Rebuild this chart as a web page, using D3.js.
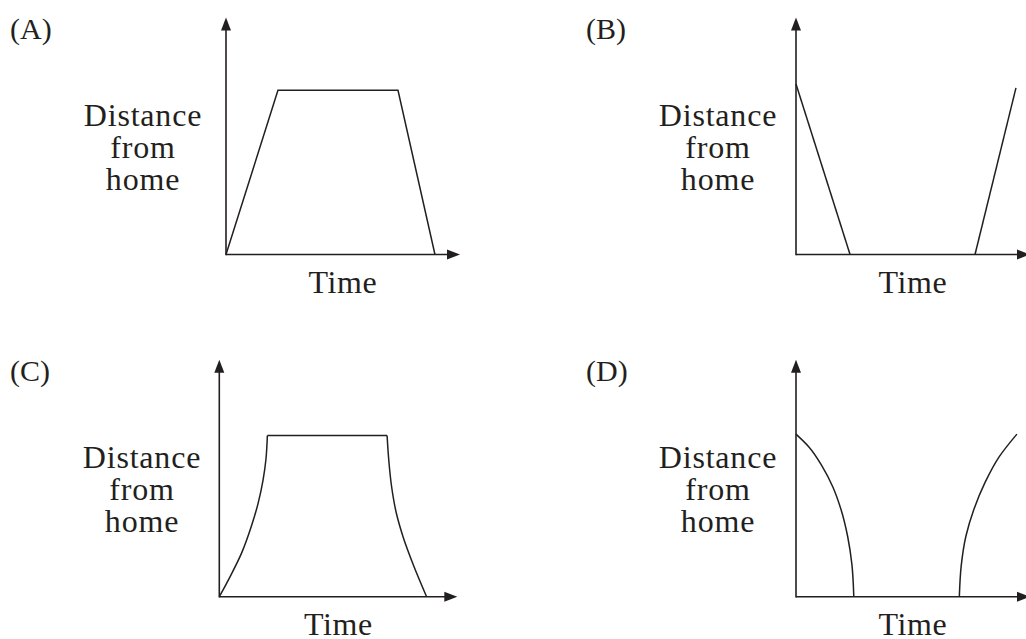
<!DOCTYPE html>
<html>
<head>
<meta charset="utf-8">
<script src="https://cdn.jsdelivr.net/npm/d3@7"></script>
<style>
  body { margin: 0; background: #fff; }
  text { font-family: "Liberation Serif", "Times New Roman", serif; fill: #231f20; }
</style>
</head>
<body>
<div id="chart"></div>
<script>
// panel captions and axis titles
var panelNames = ["(A)", "(B)", "(C)", "(D)"];
var yTitle = ["Distance", "from", "home"];
var xTitle = "Time";

// each graph: [time, distance] on a 0..10 scale (axis origin .. arrow tip)
var graphA = [[0, 0], [2.22, 6.93], [7.35, 6.93], [8.93, 0]];

var graphB1 = [[0, 7.19], [2.31, 0]];
var graphB2 = [[7.65, 0], [9.40, 7.03]];

var graphCUp = [[0, 0], [0.45, 0.84], [0.94, 1.85], [1.34, 2.95], [1.63, 3.94], [1.84, 4.93], [1.96, 5.8], [2.02, 6.8]];
var graphCTop = [[2.02, 6.8], [7.05, 6.8]];
var graphCDown = [[7.05, 6.8], [7.12, 5.77], [7.24, 4.64], [7.44, 3.52], [7.73, 2.5], [8.15, 1.35], [8.71, 0]];

var graphDDown = [[0, 6.86], [0.57, 6.3], [1.12, 5.5], [1.57, 4.64], [1.93, 3.66], [2.21, 2.53], [2.39, 1.35], [2.47, 0]];
var graphDUp = [[6.98, 0], [7.06, 1.3], [7.26, 2.55], [7.6, 3.68], [8.07, 4.8], [8.68, 5.9], [9.44, 6.86]];

var width = 1026, height = 639;
var ink = "#231f20";

// where each panel sits on the page
var panels = [
  {name: panelNames[0], ox: 226, oy: 254.5, w: 234, h: 237, labX: 143, capX: 10,
   series: [graphA], curves: [d3.curveLinear]},
  {name: panelNames[1], ox: 796, oy: 254.5, w: 234, h: 237, labX: 718, capX: 586,
   series: [graphB1, graphB2], curves: [d3.curveLinear, d3.curveLinear]},
  {name: panelNames[2], ox: 219.3, oy: 596.7, w: 238, h: 237, labX: 142, capX: 10,
   series: [graphCUp, graphCTop, graphCDown], curves: [d3.curveMonotoneY, d3.curveLinear, d3.curveMonotoneY]},
  {name: panelNames[3], ox: 796, oy: 596.7, w: 234, h: 237, labX: 718, capX: 586,
   series: [graphDDown, graphDUp], curves: [d3.curveMonotoneY, d3.curveMonotoneY]}
];

var svg = d3.select("#chart").append("svg")
  .attr("width", width)
  .attr("height", height)
  .style("background", "#fff");

panels.forEach(function(p) {
  var x = d3.scaleLinear().domain([0, 10]).range([p.ox, p.ox + p.w]);
  var y = d3.scaleLinear().domain([0, 10]).range([p.oy, p.oy - p.h]);

  var g = svg.append("g");

  // axes with arrow heads
  var tipX = x(10), tipY = y(10), aLen = 13, aHalf = 5;
  g.append("line")
    .attr("x1", x(0)).attr("y1", y(0))
    .attr("x2", tipX - aLen + 1).attr("y2", y(0))
    .style("stroke", ink).style("stroke-width", 1.6);
  g.append("line")
    .attr("x1", x(0)).attr("y1", y(0) + 0.8)
    .attr("x2", x(0)).attr("y2", tipY + aLen - 1)
    .style("stroke", ink).style("stroke-width", 1.6);
  g.append("path")
    .attr("d", "M" + tipX + "," + y(0) + "L" + (tipX - aLen) + "," + (y(0) - aHalf) + "L" + (tipX - aLen) + "," + (y(0) + aHalf) + "Z")
    .style("fill", ink);
  g.append("path")
    .attr("d", "M" + x(0) + "," + tipY + "L" + (x(0) - aHalf) + "," + (tipY + aLen) + "L" + (x(0) + aHalf) + "," + (tipY + aLen) + "Z")
    .style("fill", ink);

  g.selectAll("path.graph")
    .data(p.series).enter()
    .append("path")
    .attr("class", "graph")
    .attr("d", function(d, i) {
      return d3.line()
        .x(function(e) { return x(e[0]); })
        .y(function(e) { return y(e[1]); })
        .curve(p.curves[i])(d);
    })
    .style("fill", "none")
    .style("stroke", ink)
    .style("stroke-width", 1.5)
    .style("stroke-linejoin", "miter");

  // y title, three centred lines
  g.selectAll("text.ytitle")
    .data(yTitle).enter()
    .append("text")
    .attr("class", "ytitle")
    .attr("x", p.labX)
    .attr("y", function(d, i) { return p.oy - 128.5 + i * 32; })
    .style("text-anchor", "middle")
    .style("font-size", "32px")
    .style("letter-spacing", "0.8px")
    .text(function(d) { return d; });

  g.append("text")
    .attr("x", x(5))
    .attr("y", p.oy + 38.5)
    .style("text-anchor", "middle")
    .style("font-size", "32px")
    .style("letter-spacing", "0.6px")
    .text(xTitle);

  g.append("text")
    .attr("x", p.capX)
    .attr("y", p.oy - 216)
    .style("font-size", "30px")
    .text(p.name);
});
</script>
</body>
</html>
